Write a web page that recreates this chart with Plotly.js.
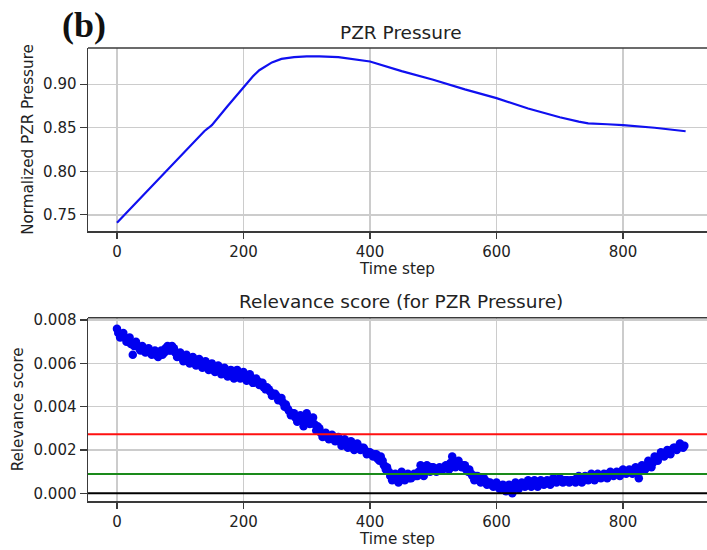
<!DOCTYPE html>
<html>
<head>
<meta charset="utf-8">
<script src="https://cdn.plot.ly/plotly-3.0.1.min.js"></script>
<style>html,body{margin:0;padding:0;background:#fff;}#chart{width:707px;height:550px;}</style>
</head>
<body>
<div id="chart"></div>
<script>
// Top panel: normalized PZR pressure over time
var pzrTime = [0, 25, 50, 75, 100, 125, 138, 145, 150, 175, 200, 215, 225, 235, 245, 260, 280, 300, 320, 350, 380, 400, 450, 500, 550, 600, 650, 700, 730, 745, 775, 800, 850, 899];
var pzrValue = [0.741, 0.760, 0.779, 0.798, 0.817, 0.836, 0.846, 0.850, 0.853, 0.875, 0.897, 0.909, 0.916, 0.921, 0.925, 0.929, 0.931, 0.932, 0.932, 0.931, 0.928, 0.926, 0.915, 0.905, 0.894, 0.884, 0.872, 0.862, 0.857, 0.855, 0.854, 0.853, 0.850, 0.846];

// Bottom panel: relevance score, two interleaved sets of samples
var relTime = [];
for (var t = 0; t <= 895; t += 5) relTime.push(t);
var relScore = [
  0.0076, 0.0072, 0.0074, 0.0070, 0.0072, 0.0064, 0.0070, 0.0067, 0.0068, 0.0065,
  0.0067, 0.0064, 0.0066, 0.0063, 0.0066, 0.0065, 0.0068, 0.0066, 0.0067, 0.0063,
  0.0065, 0.0061, 0.0064, 0.0060, 0.0063, 0.0059, 0.0062, 0.0058, 0.0061, 0.0057,
  0.0060, 0.0056, 0.0059, 0.0055, 0.0058, 0.0054, 0.0057, 0.0053, 0.0057, 0.0053,
  0.0056, 0.0052, 0.0055, 0.0051, 0.0053, 0.0050, 0.0051, 0.0048, 0.0048, 0.0045,
  0.0046, 0.0043, 0.0044, 0.0040, 0.0039, 0.0036, 0.0037, 0.0033, 0.0036, 0.0031,
  0.0037, 0.0032, 0.0035, 0.0029, 0.0030, 0.0026, 0.0028, 0.0025, 0.0027, 0.0024,
  0.0026, 0.0022, 0.0025, 0.0021, 0.0024, 0.0020, 0.0023, 0.0020, 0.0021, 0.0018,
  0.0019, 0.0017, 0.0018, 0.0015, 0.0015, 0.0011, 0.0010, 0.0006, 0.0009, 0.0005,
  0.0010, 0.0006, 0.0009, 0.0007, 0.0009, 0.0008, 0.0013, 0.0008, 0.0013, 0.0010,
  0.0012, 0.0010, 0.0012, 0.0011, 0.0013, 0.0011, 0.0017, 0.0012, 0.0015, 0.0012,
  0.0013, 0.0010, 0.0009, 0.0006, 0.0008, 0.0005, 0.0007, 0.0004, 0.0005, 0.0003,
  0.0005, 0.0002, 0.0004, 0.0001, 0.0004, 0.0000, 0.0005, 0.0002, 0.0005, 0.0003,
  0.0006, 0.0003, 0.0006, 0.0003, 0.0006, 0.0004, 0.0006, 0.0004, 0.0007, 0.0005,
  0.0007, 0.0005, 0.0006, 0.0005, 0.0006, 0.0005, 0.0008, 0.0005, 0.0008, 0.0006,
  0.0009, 0.0006, 0.0009, 0.0007, 0.0009, 0.0007, 0.0010, 0.0008, 0.0010, 0.0008,
  0.0011, 0.0009, 0.0011, 0.0009, 0.0012, 0.0007, 0.0013, 0.0011, 0.0015, 0.0012,
  0.0017, 0.0015, 0.0019, 0.0017, 0.0020, 0.0018, 0.0021, 0.0020, 0.0023, 0.0021
];
var relTimeB = [];
for (var u = 2; u <= 897; u += 5) relTimeB.push(u);
var relScoreB = [
  0.0074, 0.0073, 0.0072, 0.0071, 0.0069, 0.0068, 0.0068, 0.0066, 0.0066, 0.0066,
  0.0065, 0.0065, 0.0064, 0.0064, 0.0064, 0.0067, 0.0066, 0.0068, 0.0065, 0.0064,
  0.0063, 0.0063, 0.0062, 0.0062, 0.0061, 0.0061, 0.0060, 0.0060, 0.0059, 0.0059,
  0.0058, 0.0058, 0.0057, 0.0057, 0.0056, 0.0056, 0.0055, 0.0055, 0.0055, 0.0055,
  0.0054, 0.0054, 0.0053, 0.0052, 0.0052, 0.0051, 0.0049, 0.0049, 0.0047, 0.0046,
  0.0045, 0.0044, 0.0042, 0.0041, 0.0038, 0.0037, 0.0035, 0.0034, 0.0034, 0.0034,
  0.0034, 0.0034, 0.0032, 0.0031, 0.0028, 0.0027, 0.0026, 0.0026, 0.0025, 0.0025,
  0.0024, 0.0024, 0.0023, 0.0023, 0.0022, 0.0022, 0.0021, 0.0021, 0.0020, 0.0019,
  0.0018, 0.0018, 0.0016, 0.0017, 0.0013, 0.0012, 0.0008, 0.0008, 0.0007, 0.0007,
  0.0008, 0.0008, 0.0007, 0.0008, 0.0008, 0.0010, 0.0011, 0.0011, 0.0011, 0.0012,
  0.0011, 0.0011, 0.0011, 0.0012, 0.0012, 0.0014, 0.0015, 0.0014, 0.0013, 0.0013,
  0.0011, 0.0011, 0.0008, 0.0008, 0.0007, 0.0006, 0.0006, 0.0005, 0.0004, 0.0004,
  0.0003, 0.0003, 0.0003, 0.0002, 0.0002, 0.0003, 0.0003, 0.0004, 0.0004, 0.0004,
  0.0004, 0.0005, 0.0004, 0.0005, 0.0005, 0.0005, 0.0005, 0.0006, 0.0006, 0.0006,
  0.0006, 0.0006, 0.0006, 0.0006, 0.0006, 0.0007, 0.0006, 0.0007, 0.0007, 0.0007,
  0.0007, 0.0008, 0.0008, 0.0008, 0.0008, 0.0009, 0.0009, 0.0009, 0.0009, 0.0010,
  0.0010, 0.0010, 0.0010, 0.0011, 0.0010, 0.0011, 0.0012, 0.0013, 0.0014, 0.0014,
  0.0016, 0.0017, 0.0018, 0.0018, 0.0019, 0.0020, 0.0021, 0.0021, 0.0022, 0.0022
];

// Threshold lines
var redThreshold = 0.00273;
var greenThreshold = 0.00089;
var baseLevel = 0;

var xTicks = [0, 200, 400, 600, 800];
var topYTicks = [0.75, 0.80, 0.85, 0.90];
var topYLabels = ['0.75', '0.80', '0.85', '0.90'];
var botYTicks = [0, 0.002, 0.004, 0.006, 0.008];
var botYLabels = ['0.000', '0.002', '0.004', '0.006', '0.008'];

var FONT = 'DejaVu Sans, sans-serif';
var AXC = '#3a3a3a';
var GRIDC = '#cccccc';
var TICKSZ = 15;

var traces = [
  {x: pzrTime, y: pzrValue, type: 'scatter', mode: 'lines', line: {color: '#1010f0', width: 2.2}, xaxis: 'x', yaxis: 'y', hoverinfo: 'skip'},
  {x: relTime, y: relScore, type: 'scatter', mode: 'markers', marker: {color: '#0000f0', size: 8.5, line: {width: 0}}, xaxis: 'x2', yaxis: 'y2', hoverinfo: 'skip'},
  {x: relTimeB, y: relScoreB, type: 'scatter', mode: 'markers', marker: {color: '#0000f0', size: 8.5, line: {width: 0}}, xaxis: 'x2', yaxis: 'y2', hoverinfo: 'skip'}
];

function xAxis(anchor) {
  return {
    domain: [88/707, 1], range: [-45.8, 932.8], anchor: anchor,
    tickvals: xTicks, ticktext: xTicks.map(String),
    showgrid: true, gridcolor: GRIDC, gridwidth: 1.3, zeroline: false,
    showline: true, linecolor: AXC, linewidth: 1.5,
    ticks: 'outside', ticklen: 6, tickwidth: 1.2, tickcolor: AXC,
    tickfont: {family: FONT, size: TICKSZ, color: '#222'},
    title: {text: 'Time step', font: {family: FONT, size: 15.2, color: '#222'}, standoff: 3},
    automargin: false, fixedrange: true
  };
}
function yAxis(anchor, dom, rng, tv, tt, title) {
  return {
    domain: dom, range: rng, anchor: anchor,
    tickvals: tv, ticktext: tt,
    showgrid: true, gridcolor: GRIDC, gridwidth: 1.3, zeroline: false,
    showline: true, linecolor: AXC, linewidth: 1.5,
    ticks: 'outside', ticklen: 7, tickwidth: 1.2, tickcolor: AXC,
    tickfont: {family: FONT, size: TICKSZ, color: '#222'},
    title: {text: title, font: {family: FONT, size: 15.2, color: '#222'}, standoff: 6},
    automargin: false, fixedrange: true
  };
}

var layout = {
  width: 707, height: 550,
  margin: {l: 0, r: 0, t: 0, b: 0},
  paper_bgcolor: '#ffffff', plot_bgcolor: '#ffffff',
  showlegend: false,
  font: {family: FONT, color: '#222'},
  xaxis: xAxis('y'),
  yaxis: yAxis('x', [(550-231)/550, (550-48)/550], [0.7315, 0.9415], topYTicks, topYLabels, 'Normalized PZR Pressure'),
  xaxis2: xAxis('y2'),
  yaxis2: yAxis('x2', [(550-501)/550, (550-317.7)/550], [-0.000356, 0.00811], botYTicks, botYLabels, 'Relevance score'),
  shapes: [
    {type: 'line', xref: 'x domain', yref: 'y domain', x0: 0, x1: 1, y0: 1, y1: 1, line: {color: AXC, width: 1.5}},
    {type: 'line', xref: 'x2 domain', yref: 'y2 domain', x0: 0, x1: 1, y0: 1, y1: 1, line: {color: AXC, width: 1.5}},
    {type: 'line', xref: 'x2 domain', yref: 'y2', x0: 0, x1: 1, y0: redThreshold, y1: redThreshold, line: {color: '#ff1010', width: 2}},
    {type: 'line', xref: 'x2 domain', yref: 'y2', x0: 0, x1: 1, y0: greenThreshold, y1: greenThreshold, line: {color: '#1a8a1a', width: 1.8}},
    {type: 'line', xref: 'x2 domain', yref: 'y2', x0: 0, x1: 1, y0: baseLevel, y1: baseLevel, line: {color: '#000000', width: 2}}
  ],
  annotations: [
    {text: 'PZR Pressure', xref: 'paper', yref: 'paper', x: 401/707, y: (550-32)/550, xanchor: 'center', yanchor: 'middle', showarrow: false, font: {family: FONT, size: 18.5, color: '#222'}},
    {text: 'Relevance score (for PZR Pressure)', xref: 'paper', yref: 'paper', x: 401/707, y: (550-301)/550, xanchor: 'center', yanchor: 'middle', showarrow: false, font: {family: FONT, size: 18.5, color: '#222'}},
    {text: '<b>(b)</b>', xref: 'paper', yref: 'paper', x: 60/707, y: (550-25)/550, xanchor: 'left', yanchor: 'middle', showarrow: false, font: {family: 'Liberation Serif, Times New Roman, serif', size: 36, color: '#111'}}
  ]
};

Plotly.newPlot('chart', traces, layout, {staticPlot: true, displayModeBar: false});
</script>
</body>
</html>
